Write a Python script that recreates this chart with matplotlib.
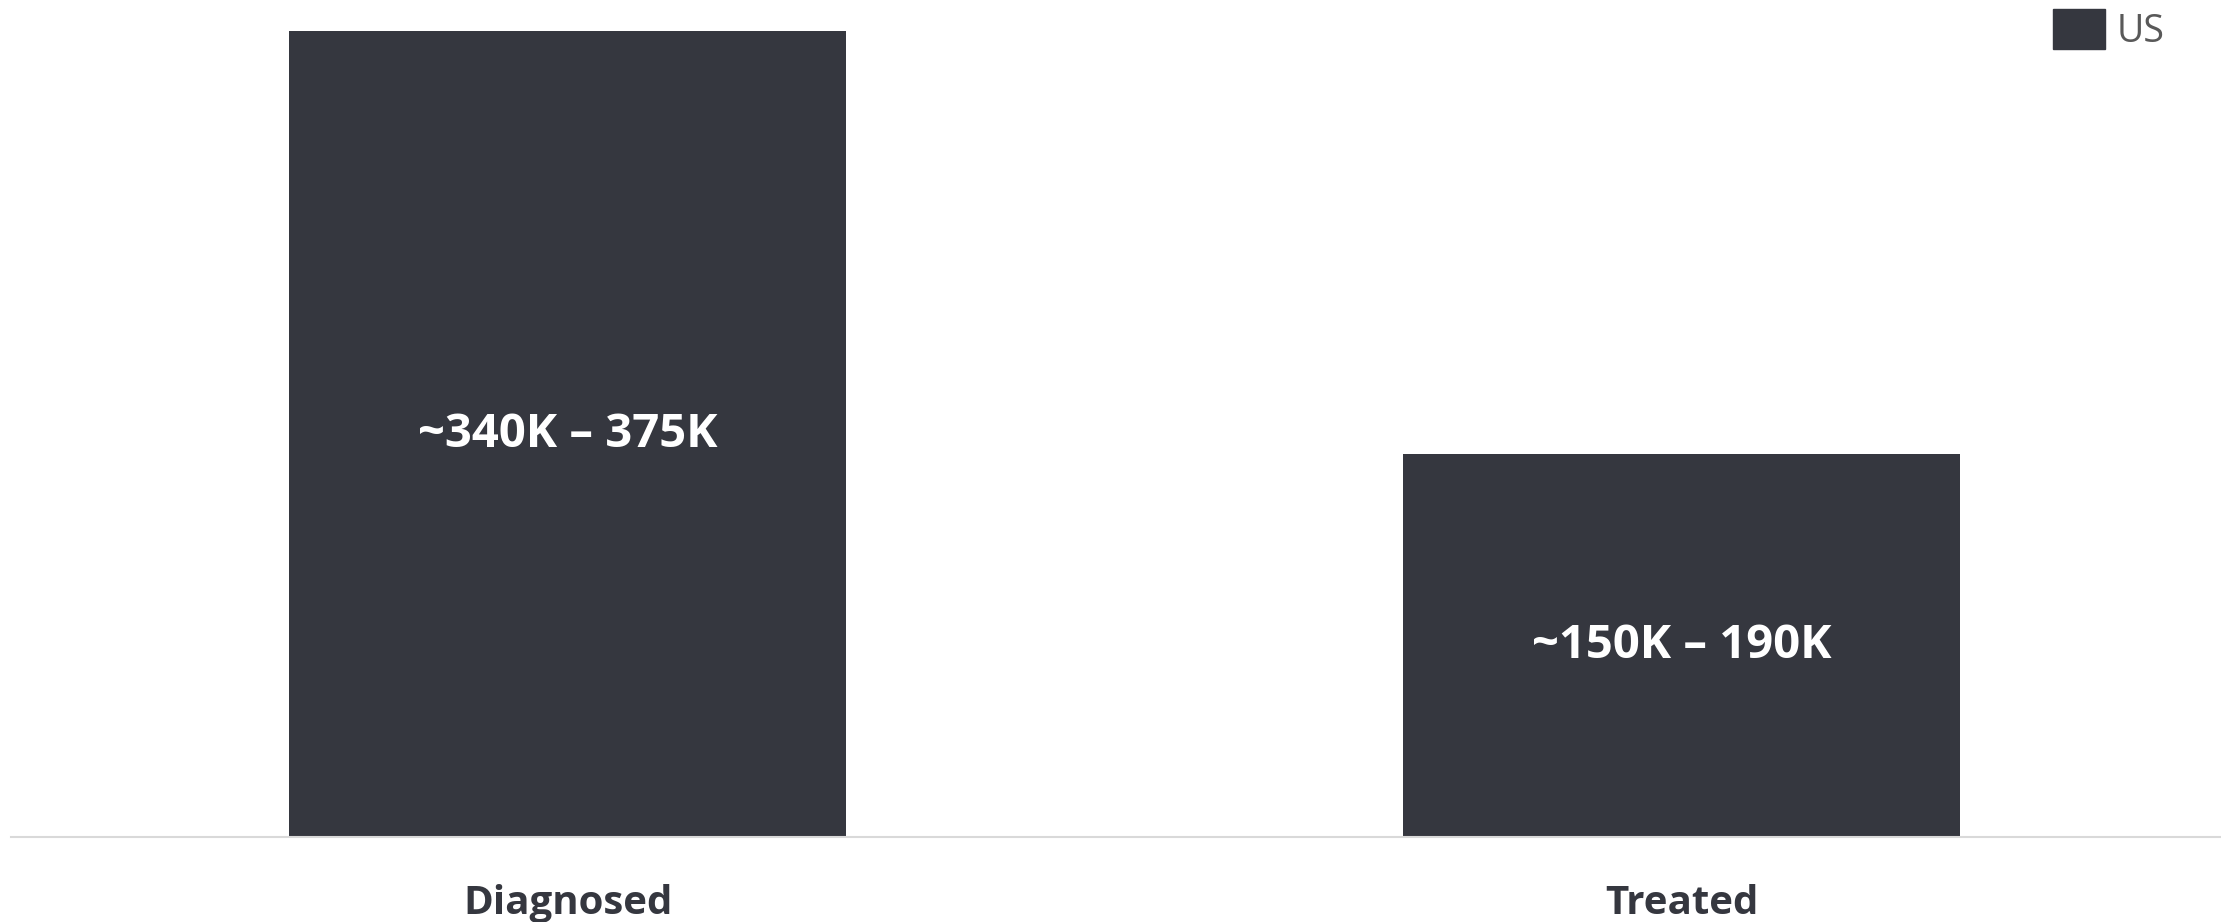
import matplotlib
matplotlib.use('Agg')
import matplotlib.pyplot as plt
from matplotlib.patches import Patch

categories = ['Diagnosed', 'Treated']
values = [357.5, 170.0]  # midpoints of the ranges, in thousands
labels = ['~340K \u2013 375K', '~150K \u2013 190K']
series_name = 'US'

bar_color = '#35373f'
plt.rcParams['font.family'] = ['Open Sans', 'DejaVu Sans']

fig = plt.figure(figsize=(22.21, 9.22), dpi=100)
ax = fig.add_axes([11 / 2221, 85 / 922, 1 - 11 / 2221, 837 / 922])

x = list(range(len(categories)))
bars = ax.bar(x, values, width=0.5, color=bar_color, label=series_name)

for b, lab in zip(bars, labels):
    ax.text(b.get_x() + b.get_width() / 2, b.get_height() * 0.5, lab,
            ha='center', va='center', color='white', fontsize=34, fontweight='bold')

ax.set_xlim(-0.5, 1.484)
ax.set_ylim(0, 371.3)
ax.set_xticks(x)
ax.set_xticklabels(categories, fontsize=29, fontweight='bold', color=bar_color)
ax.tick_params(axis='x', length=0, pad=34)
ax.set_yticks([])
for s in ['top', 'right', 'left']:
    ax.spines[s].set_visible(False)
ax.spines['bottom'].set_color('#d9d9d9')
ax.spines['bottom'].set_linewidth(1.5)

fig.legend(handles=[Patch(color=bar_color, label=series_name)], loc='upper right',
           bbox_to_anchor=(2170 / 2221, 1 - 3 / 922), frameon=False, fontsize=27,
           handlelength=1.4, handleheight=1.3, handletextpad=0.3,
           labelcolor='#595959', borderaxespad=0, borderpad=0.15)

fig.savefig('out.png', dpi=100)
